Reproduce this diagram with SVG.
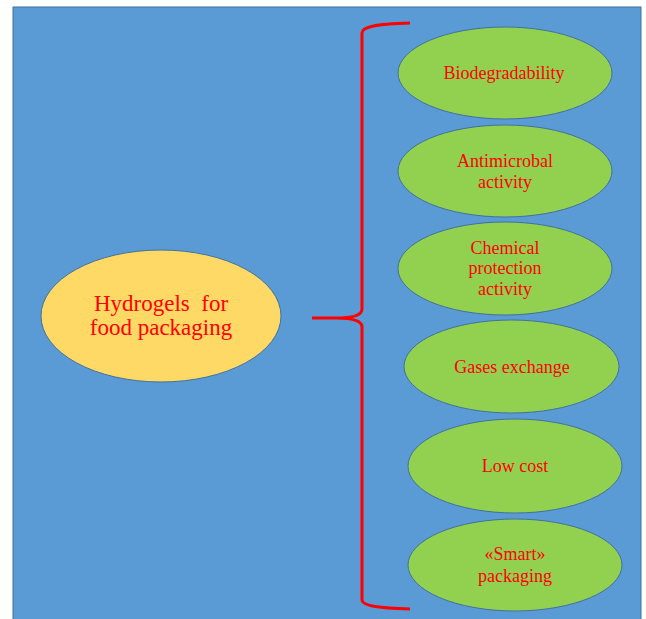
<svg xmlns="http://www.w3.org/2000/svg" width="646" height="619" viewBox="0 0 646 619">
<style>
.bg{fill:#5B9BD5;stroke:#41719C;stroke-width:1}
.leaf{fill:#92D050;stroke:#41719C;stroke-width:1}
.root{fill:#FFD966;stroke:#41719C;stroke-width:1}
text{font-family:"Liberation Serif","Times New Roman",serif;fill:#FF0000;text-anchor:middle}
.s{font-size:18px}
.l{font-size:23px;white-space:pre}
.br{fill:none;stroke:#FF0000;stroke-width:3;stroke-linecap:butt}
</style>
<rect class="bg" x="13" y="7" width="628" height="620"/>
<g id="connectors">
<path class="br" d="M410,23 C374,24 362,27 362,33 L362,309 Q362,318 336,318 L312,318 M336,318 Q362,318 362,327 L362,600 C362,605 374,608 410,609"/>
</g>
<g id="root">
<ellipse class="root" cx="161" cy="316" rx="120" ry="66"/>
<text class="l" x="161" y="310.5" xml:space="preserve">Hydrogels  for</text>
<text class="l" x="161" y="334.5">food packaging</text>
</g>
<g id="n1">
<ellipse class="leaf" cx="505" cy="73" rx="107" ry="46"/>
<text class="s" x="504" y="79">Biodegradability</text>
</g>
<g id="n2">
<ellipse class="leaf" cx="505" cy="171" rx="107" ry="46"/>
<text class="s" x="505" y="167">Antimicrobal</text>
<text class="s" x="505" y="187.5">activity</text>
</g>
<g id="n3">
<ellipse class="leaf" cx="505" cy="268.5" rx="107" ry="46.5"/>
<text class="s" x="505" y="253.5">Chemical</text>
<text class="s" x="505" y="274">protection</text>
<text class="s" x="505" y="294.5">activity</text>
</g>
<g id="n4">
<ellipse class="leaf" cx="511.5" cy="366.5" rx="107.5" ry="46.5"/>
<text class="s" x="512" y="373">Gases exchange</text>
</g>
<g id="n5">
<ellipse class="leaf" cx="515" cy="466" rx="107" ry="47"/>
<text class="s" x="515" y="472">Low cost</text>
</g>
<g id="n6">
<ellipse class="leaf" cx="515" cy="565" rx="107" ry="46"/>
<text class="s" x="515" y="560">«Smart»</text>
<text class="s" x="515" y="582">packaging</text>
</g>
</svg>
